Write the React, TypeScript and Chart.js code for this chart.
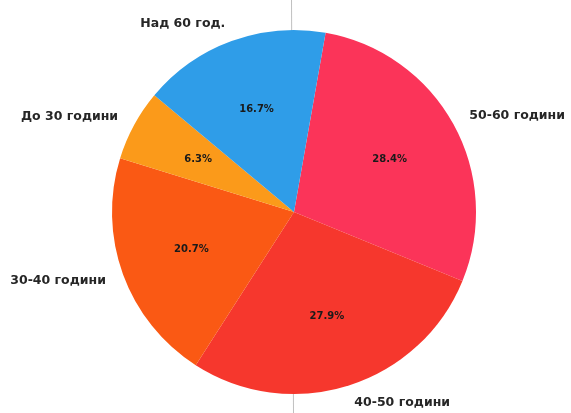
import React, { useEffect, useRef } from "react";
import { Chart, registerables } from "chart.js";

Chart.register(...registerables);

const categories = ["50-60 години", "40-50 години", "30-40 години", "До 30 години", "Над 60 год."];
const shares = [28.4, 27.9, 20.7, 6.3, 16.7];
const pctLabels = ["28.4%", "27.9%", "20.7%", "6.3%", "16.7%"];
const colors = ["#fb3459", "#f6372d", "#fa5914", "#fb9a1a", "#2f9de8"];

const labelPlugin = {
  id: "pieLabels",
  beforeDatasetsDraw(chart: any) {
    const ctx = chart.ctx;
    ctx.save();
    ctx.strokeStyle = "rgba(140,140,140,0.55)";
    ctx.lineWidth = 1;
    ctx.beginPath();
    ctx.moveTo(291.5, 0);
    ctx.lineTo(293.5, chart.height);
    ctx.stroke();
    ctx.restore();
  },
  afterDatasetsDraw(chart: any) {
    const ctx = chart.ctx;
    const meta = chart.getDatasetMeta(0);
    ctx.save();
    meta.data.forEach((arc: any, i: number) => {
      const p = arc.getProps(["x", "y", "startAngle", "endAngle", "outerRadius"], true);
      const mid = (p.startAngle + p.endAngle) / 2;
      const c = Math.cos(mid);
      const s = Math.sin(mid);
      ctx.font = "bold 12.5px 'DejaVu Sans', sans-serif";
      ctx.fillStyle = "#262626";
      ctx.textBaseline = "middle";
      ctx.textAlign = c > 0 ? "left" : "right";
      ctx.fillText(categories[i], p.x + c * p.outerRadius * 1.1, p.y + s * p.outerRadius * 1.1);
      ctx.font = "bold 10px 'DejaVu Sans', sans-serif";
      ctx.fillStyle = "#1a1a1a";
      ctx.textAlign = "center";
      ctx.fillText(pctLabels[i], p.x + c * p.outerRadius * 0.6, p.y + s * p.outerRadius * 0.6);
    });
    ctx.restore();
  },
};

export default function App() {
  const ref = useRef<HTMLCanvasElement | null>(null);
  useEffect(() => {
    if (!ref.current) return;
    const chart = new Chart(ref.current, {
      type: "pie",
      data: {
        labels: categories,
        datasets: [
          {
            data: shares,
            backgroundColor: colors,
            borderWidth: 0,
          },
        ],
      },
      options: {
        responsive: false,
        animation: false,
        rotation: 10,
        layout: { padding: { left: 112, right: 95, top: 30, bottom: 19 } },
        plugins: {
          legend: { display: false },
          tooltip: { enabled: false },
        },
      },
      plugins: [labelPlugin],
    });
    return () => chart.destroy();
  }, []);
  return (
    <div style={{ position: "absolute", left: 0, top: 0, width: 571, height: 413, background: "#ffffff" }}>
      <canvas ref={ref} width={571} height={413} style={{ width: 571, height: 413, display: "block" }} />
    </div>
  );
}
